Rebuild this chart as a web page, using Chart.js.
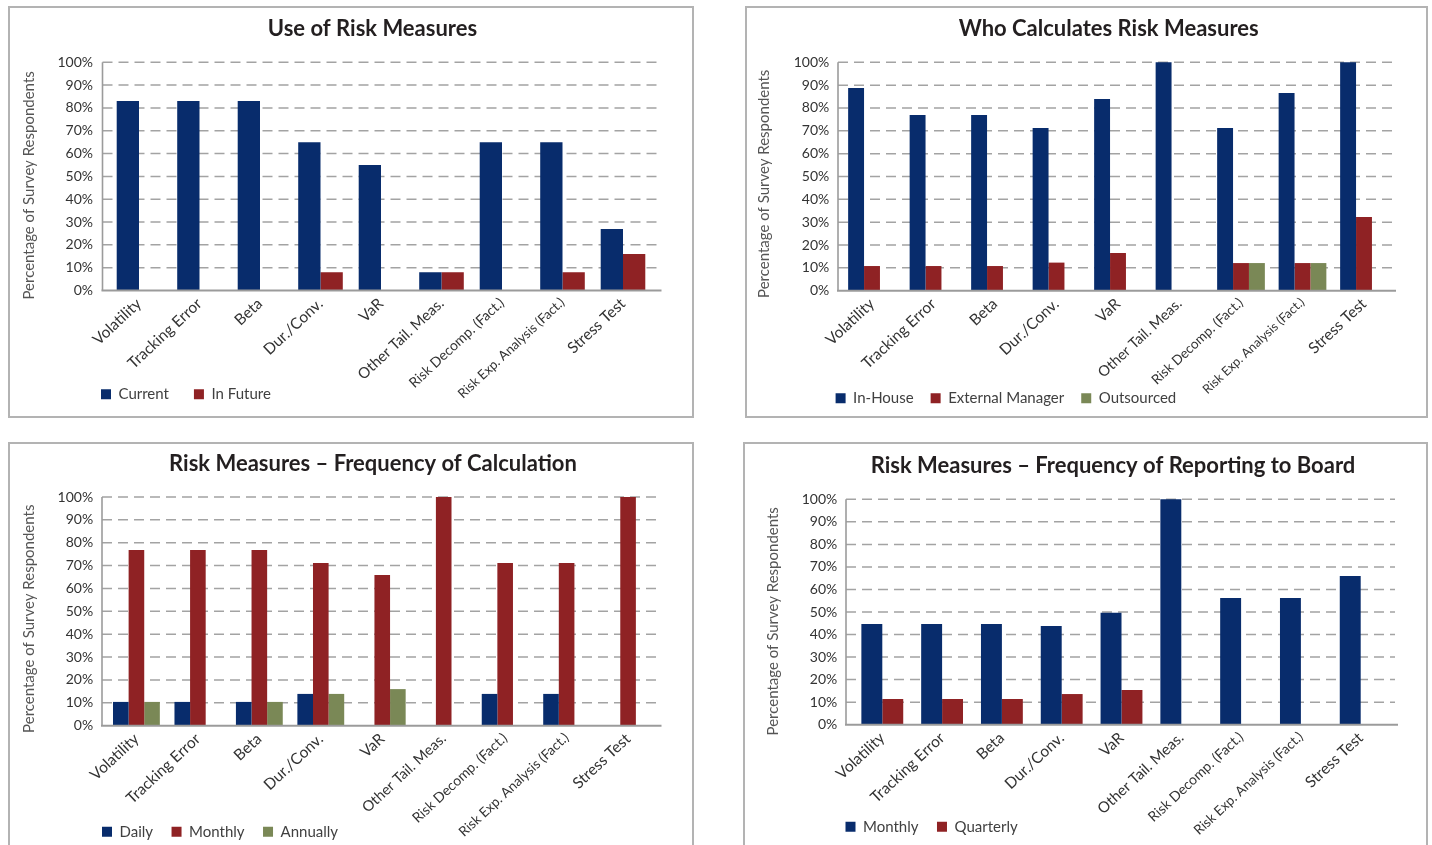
<!DOCTYPE html>
<html>
<head>
<meta charset="utf-8">
<title>Risk Measures</title>
<script src="https://cdn.jsdelivr.net/npm/chart.js@4.4.1/dist/chart.umd.min.js"></script>
<style>
  html, body { margin: 0; padding: 0; background: #fff; overflow: hidden; }
  .panel { position: absolute; border: 2px solid #b3b3b3; box-sizing: border-box; background: #fff; overflow: hidden; }
  .panel .box { position: absolute; left: 0; top: 0; width: 100%; height: 100%; }
</style>
</head>
<body>
<div class="panel" style="left:8px;top:6px;width:686px;height:412px"><div class="box"><canvas id="useChart"></canvas></div></div>
<div class="panel" style="left:745px;top:6px;width:683px;height:412px"><div class="box"><canvas id="whoChart"></canvas></div></div>
<div class="panel" style="left:8px;top:442px;width:686px;height:420px"><div class="box"><canvas id="calcChart"></canvas></div></div>
<div class="panel" style="left:743px;top:442px;width:685px;height:420px"><div class="box"><canvas id="boardChart"></canvas></div></div>
<script>
const categories = ['Volatility', 'Tracking Error', 'Beta', 'Dur./Conv.', 'VaR',
  'Other Tail. Meas.', 'Risk Decomp. (Fact.)', 'Risk Exp. Analysis (Fact.)', 'Stress Test'];

// Use of Risk Measures
const useCurrent = [83, 83, 83, 65, 55, 8, 65, 65, 27];
const useFuture = [null, null, null, 8, null, 8, null, 8, 16];

// Who Calculates Risk Measures
const calcInHouse = [88.7, 76.9, 76.9, 71.2, 83.9, 100, 71.2, 86.6, 100];
const calcExternal = [10.8, 10.8, 10.8, 12.3, 16.5, null, 12.1, 12.1, 32.3];
const calcOutsourced = [null, null, null, null, null, null, 12.1, 12.1, null];

// Frequency of Calculation
const freqDaily = [10.4, 10.4, 10.4, 13.9, null, null, 13.9, 13.9, null];
const freqMonthly = [76.8, 76.8, 76.8, 71.1, 65.9, 100, 71.1, 71.1, 100];
const freqAnnually = [10.4, null, 10.4, 13.9, 16.0, null, null, null, null];

// Frequency of Reporting to Board
const boardMonthly = [44.7, 44.7, 44.7, 43.8, 49.7, 100, 56.2, 56.2, 66.0];
const boardQuarterly = [11.4, 11.4, 11.4, 13.6, 15.4, null, null, null, null];

const NAVY = '#082c6c';
const RED = '#8f2224';
const GREEN = '#7a8856';
const FONT = 'Lato, "Open Sans", sans-serif';

// moves title / legend into place and draws the dashed grid + axis lines
function frame(L) {
  return {
    id: 'frame',
    afterLayout(chart) {
      const t = chart.titleBlock;
      t.left = L.titleX - 320;
      t.right = L.titleX + 320;
      t.top = L.titleY - 13.2;
      const lg = chart.legend;
      const p = lg.options.labels.padding;
      lg.left = L.legendX - p;
      lg.top = L.legendY - p - 7.5;
      // let the rotated tick labels run down over the legend row
      chart.scales.x.bottom = chart.height;
      // y title sits a little below the middle of the axis
      chart.scales.y.top += L.yTitleShift;
      chart.scales.y.bottom += L.yTitleShift;
    },
    beforeDatasetsDraw(chart) {
      const ctx = chart.ctx;
      const y = chart.scales.y;
      ctx.save();
      ctx.strokeStyle = '#a3a3a3';
      ctx.lineWidth = 1.5;
      ctx.setLineDash([10, 6]);
      y.ticks.forEach(t => {
        if (!t.value) return;
        const py = y.getPixelForValue(t.value);
        ctx.beginPath();
        ctx.moveTo(L.axisX, py);
        ctx.lineTo(L.gridEnd, py);
        ctx.stroke();
      });
      ctx.restore();
    },
    afterDatasetsDraw(chart) {
      const ctx = chart.ctx;
      const y = chart.scales.y;
      const y0 = y.getPixelForValue(0);
      ctx.save();
      ctx.strokeStyle = '#9b9b9b';
      ctx.lineWidth = 1.6;
      ctx.beginPath();
      ctx.moveTo(L.axisX, y.getPixelForValue(100));
      ctx.lineTo(L.axisX, y0);
      ctx.stroke();
      ctx.lineWidth = 2;
      ctx.beginPath();
      ctx.moveTo(L.axisX - 1, y0);
      ctx.lineTo(L.axisEnd, y0);
      ctx.stroke();
      ctx.restore();
    }
  };
}

function makeChart(id, title, datasets, L) {
  return new Chart(document.getElementById(id), {
    type: 'bar',
    data: { labels: categories, datasets: datasets },
    options: {
      responsive: true,
      maintainAspectRatio: false,
      animation: false,
      layout: { padding: { left: 0, right: L.padRight, top: 0, bottom: 0 } },
      datasets: { bar: { categoryPercentage: L.groupPct, barPercentage: 1, borderWidth: 0, clip: false } },
      plugins: {
        title: {
          display: true,
          text: title,
          color: '#231f20',
          font: { family: FONT, size: 22, weight: 'bold', lineHeight: 1.2 },
          padding: { top: 0, bottom: L.top - 26.4 }
        },
        legend: {
          position: 'bottom',
          align: 'start',
          labels: {
            boxWidth: 10,
            boxHeight: 10,
            padding: L.legendPad,
            color: '#404040',
            font: { family: FONT, size: 15 }
          }
        },
        tooltip: { enabled: false }
      },
      scales: {
        x: {
          grid: { display: false, drawTicks: false },
          border: { display: false },
          ticks: {
            autoSkip: false, minRotation: 43, maxRotation: 43,
            padding: 4, color: '#333',
            // the long labels are set smaller, as in the original
            font: c => ({ family: FONT, size: L.xSizes[c.index] || 15.5 })
          },
          afterFit: s => { s.height = s.chart.height - L.bottom - s.chart.legend.height; }
        },
        y: {
          min: 0,
          max: 100,
          grid: { display: false, drawTicks: false },
          border: { display: false },
          ticks: {
            stepSize: 10,
            padding: L.yPad,
            color: '#333',
            font: { family: FONT, size: 14 },
            callback: v => v + '%'
          },
          title: {
            display: true,
            text: 'Percentage of Survey Respondents',
            color: '#555',
            font: { family: FONT, size: 15, lineHeight: 1.2 },
            padding: { top: L.yTitlePad, bottom: 0 }
          },
          afterFit: s => { s.width = L.left; }
        }
      }
    },
    plugins: [frame(L)]
  });
}

makeChart('useChart', 'Use of Risk Measures', [
  { label: 'Current', data: useCurrent, backgroundColor: NAVY },
  { label: 'In Future', data: useFuture, backgroundColor: RED }
], { left: 98.75, padRight: 38.75, top: 54.3, bottom: 282.5, axisX: 92.5, axisEnd: 651.5, gridEnd: 648,
     titleX: 362.5, titleY: 20.5, legendX: 91, legendY: 386.3, legendPad: 25, yPad: 15.75, yTitlePad: 9.7,
     yTitleShift: 9, groupPct: 0.737, xSizes: [15.5, 15.5, 15.5, 15.5, 15.5, 15, 14, 13.2, 15.5] });

makeChart('whoChart', 'Who Calculates Risk Measures', [
  { label: 'In-House', data: calcInHouse, backgroundColor: NAVY },
  { label: 'External Manager', data: calcExternal, backgroundColor: RED },
  { label: 'Outsourced', data: calcOutsourced, backgroundColor: GREEN }
], { left: 94.25, padRight: 31.25, top: 54.3, bottom: 282.7, axisX: 91, axisEnd: 649, gridEnd: 646,
     titleX: 361.7, titleY: 20.5, legendX: 88.6, legendY: 390.3, legendPad: 17, yPad: 11.95, yTitlePad: 8.6,
     yTitleShift: 7.3, groupPct: 0.776, xSizes: [15.5, 15.5, 15.5, 15.5, 15.5, 14.6, 13.5, 12.6, 15.5] });

makeChart('calcChart', 'Risk Measures \u2013 Frequency of Calculation', [
  { label: 'Daily', data: freqDaily, backgroundColor: NAVY },
  { label: 'Monthly', data: freqMonthly, backgroundColor: RED },
  { label: 'Annually', data: freqAnnually, backgroundColor: GREEN }
], { left: 95.7, padRight: 33.2, top: 53, bottom: 281.7, axisX: 92, axisEnd: 651.5, gridEnd: 648,
     titleX: 363, titleY: 19.7, legendX: 92, legendY: 387.7, legendPad: 18.5, yPad: 12.5, yTitlePad: 9.7,
     yTitleShift: 7.4, groupPct: 0.762, xSizes: [15.5, 15.5, 15.5, 15.5, 15.5, 14.6, 14, 13.6, 15.5] });

makeChart('boardChart', 'Risk Measures \u2013 Frequency of Reporting to Board', [
  { label: 'Monthly', data: boardMonthly, backgroundColor: NAVY },
  { label: 'Quarterly', data: boardQuarterly, backgroundColor: RED }
], { left: 107.4, padRight: 35.4, top: 55.3, bottom: 280.7, axisX: 101, axisEnd: 653, gridEnd: 650,
     titleX: 368, titleY: 22, legendX: 100.5, legendY: 382.7, legendPad: 18.5, yPad: 15.1, yTitlePad: 19,
     yTitleShift: 9.3, groupPct: 0.70, xSizes: [15.5, 15.5, 15.5, 15.5, 15.5, 15, 14, 13.5, 15.5] });
</script>
</body>
</html>
